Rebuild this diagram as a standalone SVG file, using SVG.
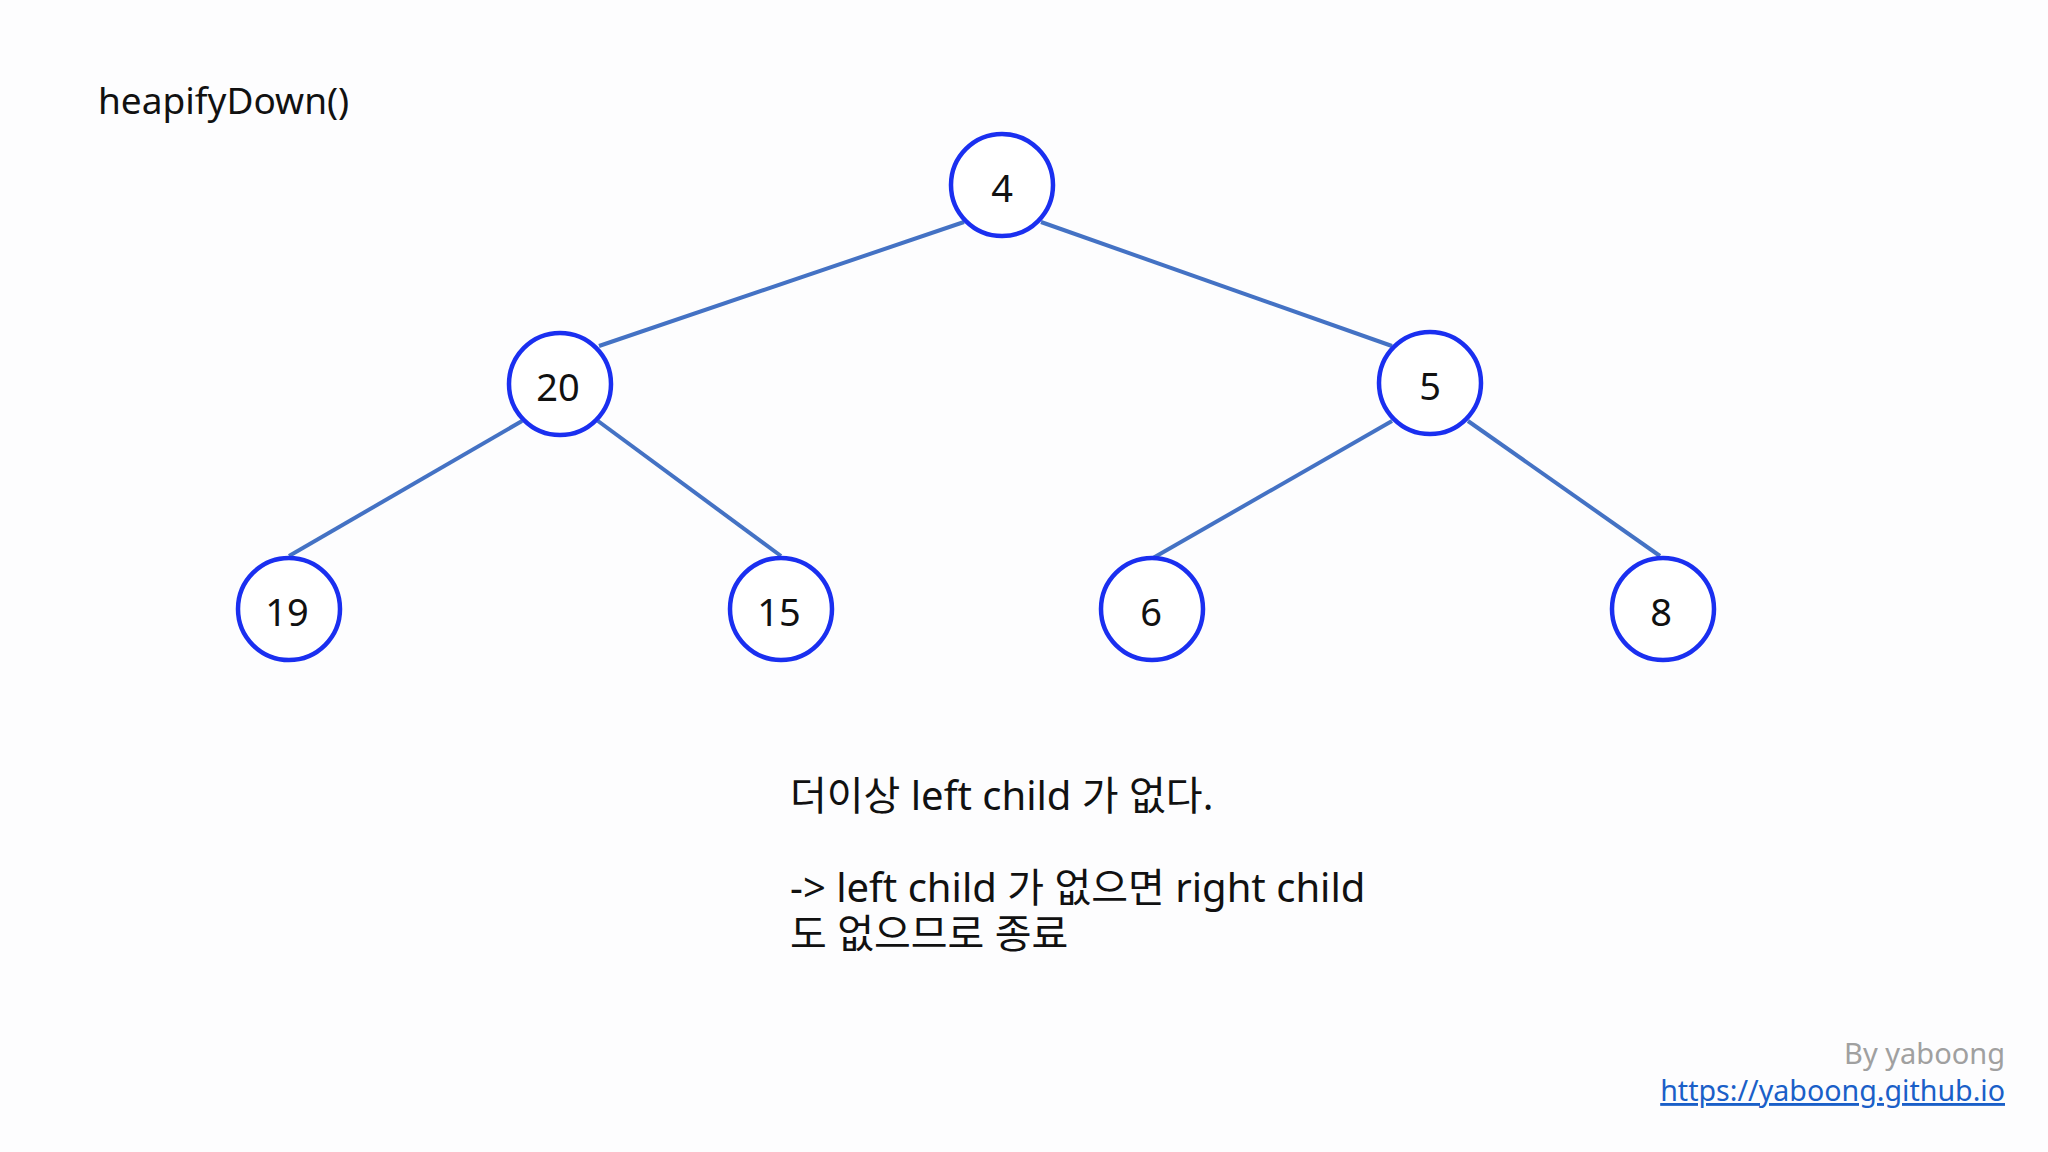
<svg xmlns="http://www.w3.org/2000/svg" width="2048" height="1152" viewBox="0 0 2048 1152">
<style>
.n circle{fill:#fff;stroke:#1a2ff0;stroke-width:4.5}
.n text,.t{font-family:"Noto Sans","Noto Sans CJK KR",sans-serif;fill:#111}
.n text{font-size:38px;text-anchor:middle;dominant-baseline:central}
.t{font-size:37px}
.k{font-size:40px}
#edges line{stroke:#4472c4;stroke-width:4}
</style>
<rect width="2048" height="1152" fill="#fdfdfe"/>
<text class="t" x="98" y="114">heapifyDown()</text>
<g id="edges">
<line x1="964" y1="222" x2="599" y2="346"/>
<line x1="1041" y1="222" x2="1392" y2="346"/>
<line x1="522" y1="421" x2="289" y2="556"/>
<line x1="598" y1="421" x2="781" y2="556"/>
<line x1="1392" y1="421" x2="1153" y2="558"/>
<line x1="1468" y1="421" x2="1660" y2="556"/>
</g>
<g id="n4" class="n"><circle cx="1002" cy="185" r="51"/><text x="1002" y="187">4</text></g>
<g id="n20" class="n"><circle cx="560" cy="384" r="51"/><text x="558" y="386">20</text></g>
<g id="n5" class="n"><circle cx="1430" cy="383" r="51"/><text x="1430" y="385">5</text></g>
<g id="n19" class="n"><circle cx="289" cy="609" r="51"/><text x="287" y="611">19</text></g>
<g id="n15" class="n"><circle cx="781" cy="609" r="51"/><text x="779" y="611">15</text></g>
<g id="n6" class="n"><circle cx="1152" cy="609" r="51"/><text x="1151" y="611">6</text></g>
<g id="n8" class="n"><circle cx="1663" cy="609" r="51"/><text x="1661" y="611">8</text></g>
<text class="t k" x="790" y="810">더이상 left child 가 없다.</text>
<text class="t k" x="790" y="902">-&gt; left child 가 없으면 right child</text>
<text class="t k" x="790" y="948">도 없으므로 종료</text>
<text x="2005" y="1064" text-anchor="end" font-family="Noto Sans,sans-serif" font-size="29" fill="#a0a0a0">By yaboong</text>
<text x="2005" y="1101" text-anchor="end" font-family="Noto Sans,sans-serif" font-size="28.6" fill="#1a5fc8" text-decoration="underline">https://yaboong.github.io</text>
</svg>
